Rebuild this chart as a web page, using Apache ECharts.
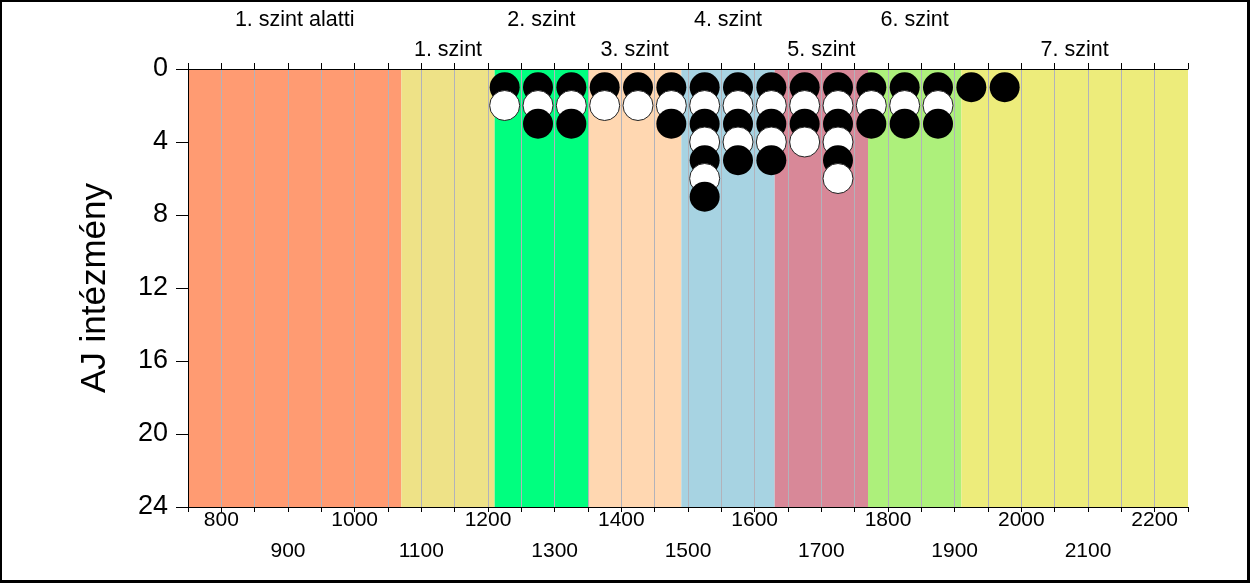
<!DOCTYPE html>
<html>
<head>
<meta charset="utf-8">
<script src="https://cdn.jsdelivr.net/npm/echarts@6/dist/echarts.min.js"></script>
<style>
  html, body { margin: 0; padding: 0; background: #fff; }
  #wrap { position: relative; width: 1250px; height: 583px; }
  #chart { position: absolute; left: 0; top: 0; width: 1250px; height: 583px; }
  #frame { position: absolute; left: 0; top: 0; width: 1250px; height: 583px; box-sizing: border-box; border: 2px solid #000; border-right-width: 3px; border-bottom-width: 3px; pointer-events: none; }
</style>
</head>
<body>
<div id="wrap"><div id="chart"></div><div id="frame"></div></div>
<script>
// ---- data ----
const bandNames = ['1. szint alatti', '1. szint', '2. szint', '3. szint', '4. szint', '5. szint', '6. szint', '7. szint'];
const bandEdges = [750, 1070, 1210, 1350, 1490, 1630, 1770, 1910, 2250];
const binCenters = [1225, 1275, 1325, 1375, 1425, 1475, 1525, 1575, 1625, 1675, 1725, 1775, 1825, 1875, 1925, 1975];
const binCounts  = [2, 3, 3, 2, 2, 3, 7, 5, 5, 4, 6, 3, 3, 3, 1, 1];
const yTicks = [0, 4, 8, 12, 16, 20, 24];

// ---- styles ----
const bandColors = ['#FF9B72', '#EEE287', '#00FF7F', '#FFD7B1', '#A7D3E2', '#D88898', '#ADF07B', '#EDEC7B'];
const FONT = 'Liberation Sans, Arial, sans-serif';

const areas = bandNames.map((name, i) => [
  { xAxis: bandEdges[i], name: name,
    itemStyle: { color: bandColors[i] },
    label: { distance: i % 2 === 0 ? 38 : 8 } },
  { xAxis: bandEdges[i + 1] }
]);

const points = [];
binCenters.forEach((x, i) => {
  for (let k = 1; k <= binCounts[i]; k++) {
    const black = k % 2 === 1;
    points.push({
      value: [x, k],
      itemStyle: black
        ? { color: '#000', borderColor: '#000', borderWidth: 0, opacity: 1 }
        : { color: '#fff', borderColor: '#222', borderWidth: 1, opacity: 1 }
    });
  }
});

const chart = echarts.init(document.getElementById('chart'), null, { renderer: 'canvas' });
chart.setOption({
  animation: false,
  backgroundColor: '#fff',
  grid: { left: 188, right: 62, top: 69, bottom: 76 },
  xAxis: [
    {
      type: 'value', position: 'bottom', min: 750, max: 2250, interval: 50, z: 1,
      axisLine: { show: true, onZero: false, lineStyle: { color: '#000', width: 1 } },
      axisTick: { show: true, inside: false, length: 5, lineStyle: { color: '#000' } },
      splitLine: { show: true, showMinLine: false, showMaxLine: false, lineStyle: { color: '#B2B2BA', width: 1 } },
      axisLabel: {
        show: true, margin: -2, fontFamily: FONT, fontSize: 21, color: '#000', lineHeight: 31,
        verticalAlign: 'top',
        formatter: v => (v % 100 !== 0) ? '' : (v % 200 === 0 ? String(v) : '\n' + v)
      }
    },
    {
      type: 'value', position: 'top', min: 750, max: 2250, interval: 50, z: 1,
      axisLine: { show: true, onZero: false, lineStyle: { color: '#000', width: 1 } },
      axisTick: { show: true, inside: false, length: 6, lineStyle: { color: '#000' } },
      splitLine: { show: false },
      axisLabel: { show: false }
    }
  ],
  yAxis: {
    type: 'value', inverse: true, min: 0, max: 24, interval: 4, z: 1,
    name: 'AJ intézmény', nameLocation: 'middle', nameGap: 75,
    nameTextStyle: { fontFamily: FONT, fontSize: 35, color: '#000' },
    axisLine: { show: true, onZero: false, lineStyle: { color: '#000', width: 1 } },
    axisTick: { show: true, length: 12, lineStyle: { color: '#000' } },
    splitLine: { show: false },
    axisLabel: {
      margin: 20, fontFamily: FONT, fontSize: 27, color: '#000',
      formatter: v => yTicks.indexOf(v) >= 0 ? String(v) : ''
    }
  },
  series: [
    {
      type: 'scatter', data: [], z: 0, silent: true,
      markArea: {
        silent: true, z: 0,
        label: { show: true, position: 'top', fontFamily: FONT, fontSize: 21.5, color: '#000' },
        itemStyle: { borderWidth: 0, opacity: 1 },
        data: areas
      }
    },
    {
      type: 'scatter', z: 3, symbol: 'circle', symbolSize: 30,
      itemStyle: { opacity: 1 },
      data: points
    }
  ]
});
</script>
</body>
</html>
